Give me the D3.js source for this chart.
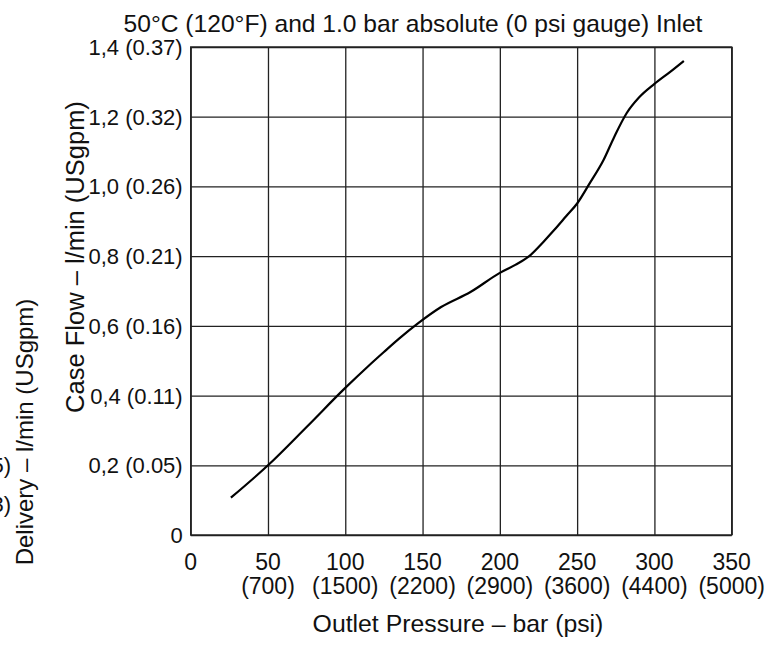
<!DOCTYPE html>
<html>
<head>
<meta charset="utf-8">
<script src="https://cdn.jsdelivr.net/npm/d3@7"></script>
<style>
  html, body { margin: 0; padding: 0; background: #fff; }
  svg { display: block; font-family: "Liberation Sans", Arial, Helvetica, sans-serif; }
</style>
</head>
<body>
<svg id="chart" width="782" height="645"></svg>
<script>
// ---- data ----
const pressureBar = [26, 50, 75, 100, 115, 125, 135, 147, 162, 181, 200, 210, 219, 228, 235, 243, 250, 258, 267, 274, 282, 290, 300, 310, 319];
const caseFlow    = [0.107, 0.2, 0.31, 0.422, 0.485, 0.525, 0.564, 0.607, 0.654, 0.697, 0.752, 0.775, 0.80, 0.84, 0.874, 0.915, 0.951, 1.008, 1.075, 1.142, 1.21, 1.255, 1.294, 1.328, 1.36];

const xTicks       = [0, 50, 100, 150, 200, 250, 300, 350];
const xTickPsi     = ["", "(700)", "(1500)", "(2200)", "(2900)", "(3600)", "(4400)", "(5000)"];
const yTicks       = [0, 0.2, 0.4, 0.6, 0.8, 1.0, 1.2, 1.4];
const yTickLabels  = ["0", "0,2 (0.05)", "0,4 (0.11)", "0,6 (0.16)", "0,8 (0.21)", "1,0 (0.26)", "1,2 (0.32)", "1,4 (0.37)"];

const titleText  = "50°C (120°F) and 1.0 bar absolute (0 psi gauge) Inlet";
const xTitle     = "Outlet Pressure – bar (psi)";
const yTitle     = "Case Flow – l/min (USgpm)";
const leftTitle  = "Delivery – l/min (USgpm)";
const leftFragments = ["(2.5)", "(1.3)"];

// ---- layout ----
const svg = d3.select("#chart");
const L = 190.7, R = 731.7, T = 47, B = 535;

const x = d3.scaleLinear().domain([0, 350]).range([L, R]);
const y = d3.scaleLinear().domain([0, 1.4]).range([B, T]);

const gridColor = "#222";
const textColor = "#111";

// vertical grid lines
svg.append("g")
  .attr("transform", `translate(0,${B})`)
  .call(d3.axisBottom(x).tickValues(xTicks).tickSize(-(B - T)).tickFormat(""))
  .call(g => g.select(".domain").remove())
  .call(g => g.selectAll("line").attr("stroke", gridColor).attr("stroke-width", 1.3));

// horizontal grid lines
svg.append("g")
  .attr("transform", `translate(${L},0)`)
  .call(d3.axisLeft(y).tickValues(yTicks).tickSize(-(R - L)).tickFormat(""))
  .call(g => g.select(".domain").remove())
  .call(g => g.selectAll("line").attr("stroke", gridColor).attr("stroke-width", 1.3));

// frame
svg.append("rect")
  .attr("x", L).attr("y", T).attr("width", R - L).attr("height", B - T)
  .attr("fill", "none").attr("stroke", gridColor).attr("stroke-width", 1.4);

// y tick labels
svg.append("g").selectAll("text")
  .data(yTicks)
  .join("text")
  .attr("x", L - 8)
  .attr("y", d => y(d) + 8)
  .attr("text-anchor", "end")
  .attr("font-size", 22)
  .attr("fill", textColor)
  .text((d, i) => yTickLabels[i]);

// x tick labels (bar)
svg.append("g").selectAll("text")
  .data(xTicks)
  .join("text")
  .attr("x", d => x(d))
  .attr("y", 570)
  .attr("text-anchor", "middle")
  .attr("font-size", 23)
  .attr("fill", textColor)
  .text(d => d);

// x tick labels (psi)
svg.append("g").selectAll("text")
  .data(xTicks)
  .join("text")
  .attr("x", d => x(d))
  .attr("y", 594)
  .attr("text-anchor", "middle")
  .attr("font-size", 23)
  .attr("fill", textColor)
  .text((d, i) => xTickPsi[i]);

// titles
svg.append("text")
  .attr("x", 413).attr("y", 32)
  .attr("text-anchor", "middle")
  .attr("font-size", 24.6)
  .attr("fill", textColor)
  .text(titleText);

svg.append("text")
  .attr("x", 458).attr("y", 632)
  .attr("text-anchor", "middle")
  .attr("font-size", 24.8)
  .attr("fill", textColor)
  .text(xTitle);

svg.append("text")
  .attr("transform", "translate(84,257) rotate(-90)")
  .attr("text-anchor", "middle")
  .attr("font-size", 25.5)
  .attr("fill", textColor)
  .text(yTitle);

svg.append("text")
  .attr("transform", "translate(33,432) rotate(-90)")
  .attr("text-anchor", "middle")
  .attr("font-size", 24)
  .attr("fill", textColor)
  .text(leftTitle);

// cropped fragments of neighbouring chart labels (cut by the left edge as in the reference)
svg.append("g").selectAll("text")
  .data(leftFragments)
  .join("text")
  .attr("x", 11)
  .attr("y", (d, i) => i === 0 ? 473 : 512)
  .attr("text-anchor", "end")
  .attr("font-size", 22)
  .attr("fill", textColor)
  .text(d => d);

// curve
const pts = pressureBar.map((p, i) => [p, caseFlow[i]]);
svg.append("path")
  .datum(pts)
  .attr("fill", "none")
  .attr("stroke", "#000")
  .attr("stroke-width", 2.2)
  .attr("d", d3.line().x(d => x(d[0])).y(d => y(d[1])).curve(d3.curveMonotoneX));
</script>
</body>
</html>
